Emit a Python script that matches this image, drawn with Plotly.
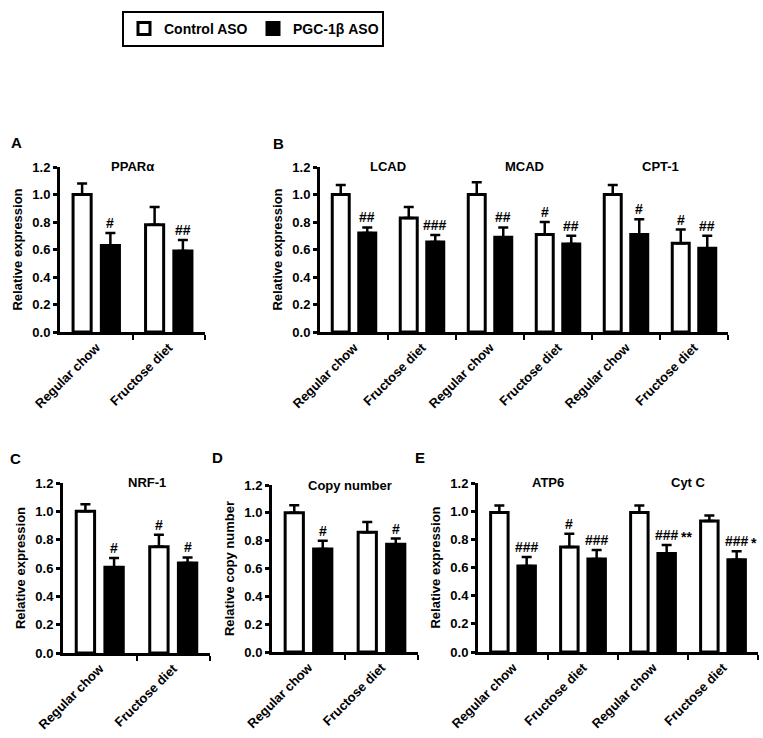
import plotly.graph_objects as go

W, H = 763, 738
FONT = "Arial, Liberation Sans, sans-serif"

# ---------------- data ----------------
categories = ["Regular chow", "Fructose diet"]
series_names = ["Control ASO", "PGC-1β ASO"]

# Panel A – PPARα
a_genes = ["PPARα"]
a_control = [1.00, 0.78]
a_control_err = [0.08, 0.13]
a_pgc = [0.63, 0.59]
a_pgc_err = [0.09, 0.08]
a_control_sig = ["", ""]
a_pgc_sig = ["#", "##"]

# Panel B – LCAD, MCAD, CPT-1 (each: regular chow, fructose diet)
b_genes = ["LCAD", "MCAD", "CPT-1"]
b_control = [1.00, 0.83, 1.00, 0.71, 1.00, 0.645]
b_control_err = [0.07, 0.08, 0.09, 0.09, 0.07, 0.10]
b_pgc = [0.72, 0.655, 0.69, 0.64, 0.71, 0.61]
b_pgc_err = [0.04, 0.05, 0.07, 0.06, 0.11, 0.09]
b_control_sig = ["", "", "", "#", "", "#"]
b_pgc_sig = ["##", "###", "##", "##", "#", "##"]

# Panel C – NRF-1
c_genes = ["NRF-1"]
c_control = [1.00, 0.75]
c_control_err = [0.05, 0.085]
c_pgc = [0.605, 0.635]
c_pgc_err = [0.065, 0.04]
c_control_sig = ["", "#"]
c_pgc_sig = ["#", "#"]

# Panel D – Copy number
d_genes = ["Copy number"]
d_control = [1.00, 0.86]
d_control_err = [0.055, 0.075]
d_pgc = [0.74, 0.775]
d_pgc_err = [0.06, 0.04]
d_control_sig = ["", ""]
d_pgc_sig = ["#", "#"]

# Panel E – ATP6, Cyt C
e_genes = ["ATP6", "Cyt C"]
e_control = [0.99, 0.745, 0.99, 0.93]
e_control_err = [0.05, 0.095, 0.05, 0.04]
e_pgc = [0.61, 0.66, 0.70, 0.655]
e_pgc_err = [0.065, 0.065, 0.06, 0.06]
e_control_sig = ["", "#", "", ""]
e_pgc_sig = ["###", "###", "### **", "### *"]

y_ticks = [0.0, 0.2, 0.4, 0.6, 0.8, 1.0, 1.2]

# ---------------- layout settings ----------------
panels = [
    dict(letter="A", genes=a_genes, ctrl=a_control, ctrl_err=a_control_err, pgc=a_pgc, pgc_err=a_pgc_err,
         ctrl_sig=a_control_sig, pgc_sig=a_pgc_sig, ytitle="Relative expression",
         box=(60, 205, 167, 332), lpos=(16, 142), tdx=0.0),
    dict(letter="B", genes=b_genes, ctrl=b_control, ctrl_err=b_control_err, pgc=b_pgc, pgc_err=b_pgc_err,
         ctrl_sig=b_control_sig, pgc_sig=b_pgc_sig, ytitle="Relative expression",
         box=(320, 728, 167, 332), lpos=(278, 143), tdx=0.0),
    dict(letter="C", genes=c_genes, ctrl=c_control, ctrl_err=c_control_err, pgc=c_pgc, pgc_err=c_pgc_err,
         ctrl_sig=c_control_sig, pgc_sig=c_pgc_sig, ytitle="Relative expression",
         box=(63, 210, 483, 653), lpos=(15, 458), tdx=0.14),
    dict(letter="D", genes=d_genes, ctrl=d_control, ctrl_err=d_control_err, pgc=d_pgc, pgc_err=d_pgc_err,
         ctrl_sig=d_control_sig, pgc_sig=d_pgc_sig, ytitle="Relative copy number",
         box=(272, 418, 485, 652), lpos=(217, 457), tdx=0.07),
    dict(letter="E", genes=e_genes, ctrl=e_control, ctrl_err=e_control_err, pgc=e_pgc, pgc_err=e_pgc_err,
         ctrl_sig=e_control_sig, pgc_sig=e_pgc_sig, ytitle="Relative expression",
         box=(478, 758, 483, 652), lpos=(420, 457), tdx=0.0),
]

BARGAP = 0.22
BARGROUPGAP = 0.36
OFF = (1 - BARGAP) / 4  # centre offset of each bar within a group
SIG_FONT = dict(family=FONT, size=14, color="black", weight="bold")

fig = go.Figure()
annotations = []
layout_axes = {}

for k, p in enumerate(panels):
    n = k + 1
    xa = "x" if n == 1 else f"x{n}"
    ya = "y" if n == 1 else f"y{n}"
    ncat = len(p["ctrl"])
    xs = list(range(ncat))
    labels = categories * len(p["genes"])

    for name, vals, errs, fill, sig in [
        (series_names[0], p["ctrl"], p["ctrl_err"], "white", p["ctrl_sig"]),
        (series_names[1], p["pgc"], p["pgc_err"], "black", p["pgc_sig"]),
    ]:
        fig.add_trace(go.Bar(
            x=xs, y=vals, name=name, xaxis=xa, yaxis=ya,
            marker=dict(color=fill, line=dict(color="black", width=3)),
            error_y=dict(type="data", symmetric=False, array=errs, arrayminus=[0] * ncat,
                         color="black", thickness=2.5, width=5),
            showlegend=(k == 0), legendgroup=name,
        ))
        off = -OFF if fill == "white" else OFF
        for i, s in enumerate(sig):
            if not s:
                continue
            parts = s.split(" ")
            top = vals[i] + errs[i]
            annotations.append(dict(x=i + off, y=top, xref=xa, yref=ya, text=parts[0],
                                    showarrow=False, yanchor="bottom", yshift=0, font=SIG_FONT))
            if len(parts) > 1:
                annotations.append(dict(x=i + off, y=top, xref=xa, yref=ya, text=parts[1],
                                        showarrow=False, yanchor="bottom", xanchor="left",
                                        xshift=12, yshift=-2, font=SIG_FONT))

    # gene titles
    for g, gene in enumerate(p["genes"]):
        annotations.append(dict(x=2 * g + 0.5 + p["tdx"], y=1, xref=xa, yref=f"{ya} domain",
                                text=gene, showarrow=False, yanchor="middle",
                                font=dict(family=FONT, size=13, color="black", weight="bold")))
    # panel letter
    lx, ly = p["lpos"]
    annotations.append(dict(x=lx / W, y=1 - ly / H, xref="paper", yref="paper", text=p["letter"],
                            showarrow=False, xanchor="center", yanchor="middle",
                            font=dict(family=FONT, size=15, color="black", weight="bold")))

    x0, x1, y0, y1 = p["box"]
    key_x = "xaxis" if n == 1 else f"xaxis{n}"
    key_y = "yaxis" if n == 1 else f"yaxis{n}"
    layout_axes[key_x] = dict(
        domain=[x0 / W, x1 / W], anchor=ya, range=[-0.5, ncat - 0.5],
        tickmode="array", tickvals=xs, ticktext=labels, tickangle=-45, ticks="",
        tickfont=dict(family=FONT, size=13, color="black", weight="bold"),
        showline=True, linewidth=3, linecolor="black", showgrid=False, zeroline=False,
        minor=dict(tickmode="array", tickvals=[i + 0.5 for i in xs], ticks="outside",
                   ticklen=5, tickwidth=2, tickcolor="black"),
        fixedrange=True,
    )
    layout_axes[key_y] = dict(
        domain=[1 - y1 / H, 1 - y0 / H], anchor=xa, range=[0, 1.2],
        tickmode="array", tickvals=y_ticks, tickformat=".1f",
        ticks="outside", ticklen=4, tickwidth=2.5, tickcolor="black",
        tickfont=dict(family=FONT, size=13, color="black", weight="bold"),
        showline=True, linewidth=3, linecolor="black", showgrid=False, zeroline=False,
        title=dict(text=p["ytitle"], standoff=7,
                   font=dict(family=FONT, size=13, color="black", weight="bold")),
        fixedrange=True,
    )

fig.update_layout(
    width=W, height=H,
    margin=dict(l=0, r=0, t=0, b=0, autoexpand=False),
    paper_bgcolor="white", plot_bgcolor="white",
    barmode="group", bargap=BARGAP, bargroupgap=BARGROUPGAP,
    annotations=annotations,
    legend=dict(orientation="h", x=122 / W, y=1 - 11 / H, xanchor="left", yanchor="top",
                bordercolor="black", borderwidth=2, bgcolor="white",
                font=dict(family=FONT, size=14, color="black", weight="bold"),
                itemwidth=30, entrywidth=84, traceorder="normal"),
    **layout_axes,
)

fig.write_html("out.html", config={"displayModeBar": False},
               post_script="document.body.style.margin='0';")
